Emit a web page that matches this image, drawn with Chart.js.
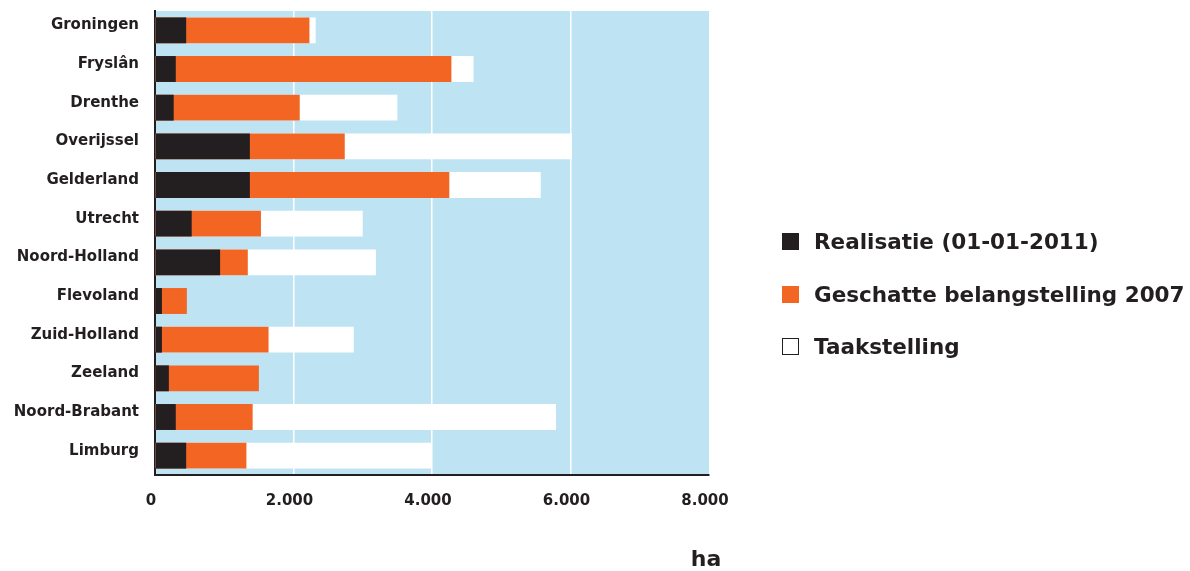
<!DOCTYPE html>
<html lang="nl">
<head>
<meta charset="utf-8">
<title>Realisatie, belangstelling en taakstelling per provincie</title>
<script src="https://cdn.jsdelivr.net/npm/chart.js@4/dist/chart.umd.min.js"></script>
<style>
  html, body { margin: 0; padding: 0; background: #fff; }
  #wrap { position: relative; width: 1190px; height: 571px; }
  #legend {
    position: absolute; left: 782px; top: 224px;
    font-family: 'DejaVu Sans', sans-serif; font-weight: bold; font-size: 21.5px; color: #231f20;
  }
  .item { display: flex; align-items: center; height: 35px; margin-bottom: 17.5px; white-space: nowrap; }
  .box { width: 17px; height: 17px; box-sizing: border-box; margin-right: 15px; }
</style>
</head>
<body>
<div id="wrap">
  <canvas id="chart" width="1190" height="571"></canvas>
  <div id="legend"></div>
</div>
<script>
const provinces = ['Groningen', 'Fryslân', 'Drenthe', 'Overijssel', 'Gelderland', 'Utrecht',
  'Noord-Holland', 'Flevoland', 'Zuid-Holland', 'Zeeland', 'Noord-Brabant', 'Limburg'];

// hectares
const realisatie     = [450, 300, 270, 1370, 1370, 530, 940, 100, 100, 200, 300, 450];
const belangstelling = [2230, 4280, 2090, 2740, 4250, 1530, 1340, 460, 1640, 1500, 1410, 1320];
const taakstelling   = [2320, 4600, 3500, 6020, 5570, 3000, 3190, null, 2870, null, 5790, 4000];

const xTickLabels = ['0', '2.000', '4.000', '6.000', '8.000'];

const ink = '#231f20';
const font = { family: "'DejaVu Sans', sans-serif", weight: 'bold' };

// light blue plot area behind the grid
const plotBackground = {
  id: 'plotBackground',
  beforeDraw(chart) {
    const { ctx, chartArea: a } = chart;
    ctx.save();
    ctx.fillStyle = '#bee4f4';
    ctx.fillRect(a.left, a.top, a.right - a.left, a.bottom - a.top);
    ctx.restore();
  }
};

// unit under the end of the x axis
const unitLabel = {
  id: 'unitLabel',
  afterDraw(chart) {
    const { ctx, scales: { x } } = chart;
    ctx.save();
    ctx.font = "bold 22px 'DejaVu Sans', sans-serif";
    ctx.fillStyle = ink;
    ctx.textAlign = 'center';
    ctx.textBaseline = 'alphabetic';
    ctx.fillText('ha', x.getPixelForValue(8000) - 3, 566);
    ctx.restore();
  }
};

const chart = new Chart(document.getElementById('chart').getContext('2d'), {
  type: 'bar',
  data: {
    labels: provinces,
    datasets: [
      { label: 'Realisatie (01-01-2011)', data: realisatie, backgroundColor: ink, legendBorder: ink },
      { label: 'Geschatte belangstelling 2007', data: belangstelling, backgroundColor: '#f26522', legendBorder: '#f26522' },
      { label: 'Taakstelling', data: taakstelling, backgroundColor: '#ffffff', legendBorder: ink }
    ]
  },
  options: {
    indexAxis: 'y',
    responsive: false,
    animation: false,
    grouped: false,
    barPercentage: 0.67,
    categoryPercentage: 1,
    layout: { padding: { top: 11, right: 481, left: 0, bottom: 0 } },
    plugins: {
      legend: { display: false },
      tooltip: { enabled: false }
    },
    scales: {
      x: {
        min: 0,
        max: 8000,
        ticks: {
          stepSize: 2000,
          padding: 17,
          labelOffset: -4,
          color: ink,
          font: { ...font, size: 15 },
          callback: (value, index) => xTickLabels[index]
        },
        grid: {
          drawTicks: false,
          lineWidth: 1.5,
          color: (c) => (c.tick && (c.tick.value === 0 || c.tick.value === 8000)) ? 'transparent' : '#ffffff'
        },
        border: { color: ink, width: 2 },
        afterFit: (scale) => { scale.height = 96; }
      },
      y: {
        ticks: {
          padding: 16,
          labelOffset: -5,
          color: ink,
          font: { ...font, size: 15 }
        },
        grid: { display: false, drawTicks: false },
        border: { color: ink, width: 2 },
        afterFit: (scale) => {
          scale.width = 155;
          scale.paddingTop = 0;
          scale.paddingBottom = 0;
        }
      }
    }
  },
  plugins: [plotBackground, unitLabel]
});

// legend as html so it can sit apart from the plot
const legendEl = document.getElementById('legend');
chart.data.datasets.forEach((ds) => {
  const item = document.createElement('div');
  item.className = 'item';
  const box = document.createElement('span');
  box.className = 'box';
  box.style.background = ds.backgroundColor;
  box.style.border = '1.5px solid ' + ds.legendBorder;
  const text = document.createElement('span');
  text.textContent = ds.label;
  item.appendChild(box);
  item.appendChild(text);
  legendEl.appendChild(item);
});
</script>
</body>
</html>
